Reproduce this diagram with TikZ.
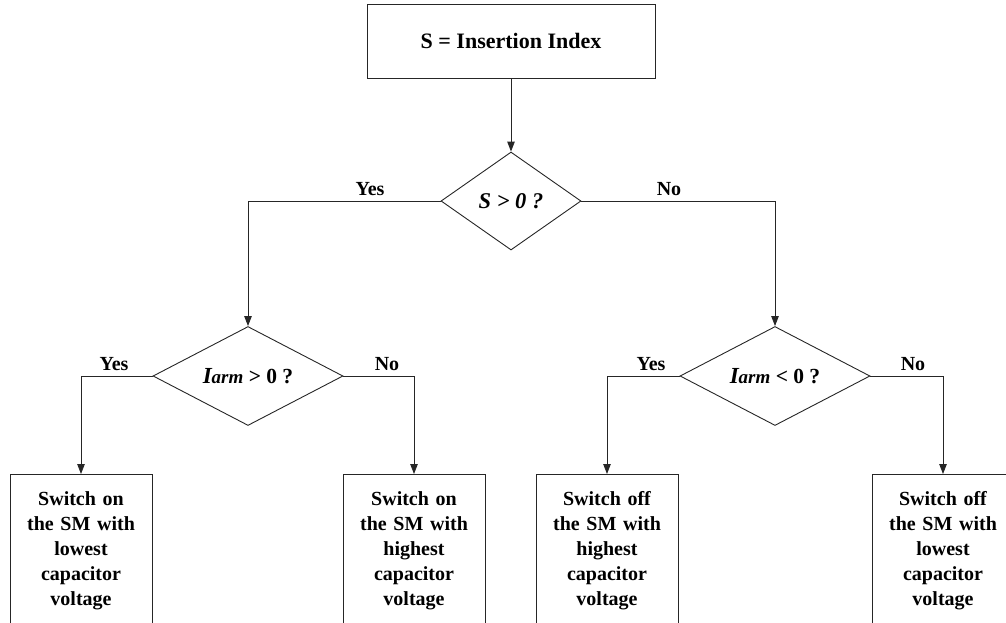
\documentclass[tikz,border=0pt]{standalone}
\usepackage{fontspec}
\setmainfont{Liberation Serif}
\usetikzlibrary{shapes.geometric,arrows.meta}
\begin{document}
\begin{tikzpicture}[x=1pt,y=-1pt,
 ln/.style={line width=0.9pt, draw=black!85},
 arr/.style={ln, -{Triangle[length=10pt,width=7.5pt]}},
 box/.style={ln, rectangle, inner sep=0pt},
 dia/.style={ln, diamond, inner sep=0pt},
 lbl/.style={font=\fontsize{20}{24}\selectfont\bfseries, inner sep=0pt, anchor=base},
 leaf/.style={ln, rectangle, anchor=north, text width=142pt, minimum width=142pt, align=center, inner xsep=0pt, inner ysep=17.3pt, font=\fontsize{20}{25}\selectfont\bfseries}]
\useasboundingbox (0,0) rectangle (1006,622);
\clip (0,0) rectangle (1006,622);

\node[box, minimum width=288pt, minimum height=74pt, font=\fontsize{22}{26}\selectfont\bfseries] (top) at (511,41) {S = Insertion Index};

\node[dia, minimum width=140pt, minimum height=98pt, aspect=1.43, font=\fontsize{22.5}{26}\selectfont\bfseries\itshape] (d1) at (511,201) {S > 0 ?};

\node[dia, minimum width=190pt, minimum height=99pt, aspect=1.92, font=\fontsize{21.5}{24}\selectfont\bfseries] (d2) at (248,376) {{\fontsize{23}{24}\selectfont\itshape I}{\fontsize{19}{20}\selectfont\itshape arm} > 0 ?};

\node[dia, minimum width=190pt, minimum height=99pt, aspect=1.92, font=\fontsize{21.5}{24}\selectfont\bfseries] (d3) at (775,376) {{\fontsize{23}{24}\selectfont\itshape I}{\fontsize{19}{20}\selectfont\itshape arm} < 0 ?};

\node[leaf] (b1) at (81,474) {Switch on\\the SM with\\lowest\\capacitor\\voltage};
\node[leaf] (b2) at (414,474) {Switch on\\the SM with\\highest\\capacitor\\voltage};
\node[leaf] (b3) at (607,474) {Switch off\\the SM with\\highest\\capacitor\\voltage};
\node[leaf] (b4) at (943,474) {Switch off\\the SM with\\lowest\\capacitor\\voltage};

\draw[arr] (top.south) -- (d1.north);
\draw[arr] (d1.west) -| (d2.north);
\draw[arr] (d1.east) -| (d3.north);
\draw[arr] (d2.west) -| (b1.north);
\draw[arr] (d2.east) -| (b2.north);
\draw[arr] (d3.west) -| (b3.north);
\draw[arr] (d3.east) -| (b4.north);

\node[lbl] (y1) at (370,195) {Yes};
\node[lbl] (n1) at (669,195) {No};
\node[lbl] (y2) at (114,370) {Yes};
\node[lbl] (n2) at (387,370) {No};
\node[lbl] (y3) at (651,370) {Yes};
\node[lbl] (n3) at (913,370) {No};
\end{tikzpicture}
\end{document}
